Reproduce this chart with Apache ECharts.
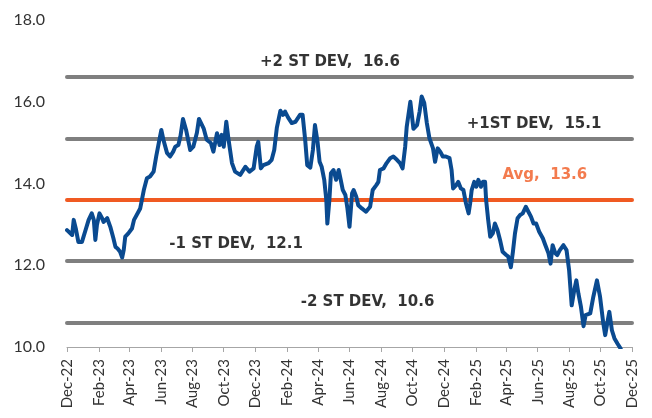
<!DOCTYPE html>
<html>
<head>
<meta charset="utf-8">
<script src="https://cdn.jsdelivr.net/npm/echarts@6/dist/echarts.min.js"></script>
<style>html,body{margin:0;padding:0;background:#fff}#c{width:652px;height:418px}</style>
</head>
<body>
<div id="c"></div>
<script>
// ---- data ----
const dates = [
'2022-12-01','2022-12-04','2022-12-11','2022-12-14','2022-12-18','2022-12-23','2022-12-30',
'2023-01-05','2023-01-12','2023-01-18','2023-01-22','2023-01-25','2023-01-28','2023-02-02','2023-02-07','2023-02-10','2023-02-17','2023-02-23',
'2023-03-01','2023-03-05','2023-03-09','2023-03-14','2023-03-18','2023-03-21','2023-03-24','2023-03-30','2023-04-06','2023-04-10','2023-04-22','2023-04-29',
'2023-05-05','2023-05-11','2023-05-18','2023-05-23','2023-05-28','2023-06-02','2023-06-06','2023-06-13','2023-06-19','2023-06-25','2023-06-29',
'2023-07-05','2023-07-09','2023-07-14','2023-07-20','2023-07-28','2023-08-03','2023-08-10','2023-08-14','2023-08-23','2023-08-29',
'2023-09-06','2023-09-11','2023-09-18','2023-09-23','2023-09-27','2023-10-01','2023-10-06','2023-10-10','2023-10-17','2023-10-23',
'2023-11-02','2023-11-12','2023-11-20','2023-11-28','2023-12-04','2023-12-07','2023-12-12','2023-12-17','2023-12-27',
'2024-01-02','2024-01-07','2024-01-12','2024-01-19','2024-01-24','2024-01-28','2024-02-03','2024-02-10','2024-02-17','2024-02-26',
'2024-03-02','2024-03-07','2024-03-11','2024-03-17','2024-03-22','2024-03-26','2024-03-31','2024-04-04','2024-04-08','2024-04-13','2024-04-17','2024-04-19','2024-04-23','2024-04-26',
'2024-05-01','2024-05-06','2024-05-11','2024-05-15','2024-05-19','2024-05-24','2024-05-28','2024-06-01','2024-06-06','2024-06-09','2024-06-14','2024-06-18','2024-06-25',
'2024-07-03','2024-07-11','2024-07-16','2024-07-23','2024-07-27','2024-07-30','2024-08-06','2024-08-12','2024-08-19','2024-08-25',
'2024-09-01','2024-09-07','2024-09-12','2024-09-17','2024-09-20','2024-09-27','2024-10-03','2024-10-10','2024-10-15','2024-10-19','2024-10-24','2024-10-29',
'2024-11-03','2024-11-10','2024-11-14','2024-11-19','2024-11-24','2024-11-29','2024-12-05','2024-12-12','2024-12-16','2024-12-19','2024-12-25','2024-12-29',
'2025-01-03','2025-01-08','2025-01-13','2025-01-18','2025-01-21','2025-01-24','2025-01-29','2025-02-02','2025-02-06','2025-02-11','2025-02-15','2025-02-19','2025-02-21','2025-02-25',
'2025-03-01','2025-03-06','2025-03-10','2025-03-15','2025-03-20','2025-03-25','2025-04-01','2025-04-05','2025-04-10','2025-04-14','2025-04-18','2025-04-23','2025-04-28',
'2025-05-03','2025-05-09','2025-05-14','2025-05-19','2025-05-24','2025-05-29','2025-06-04','2025-06-11','2025-06-16','2025-06-22','2025-06-26','2025-06-30',
'2025-07-05','2025-07-09','2025-07-14','2025-07-21','2025-07-27','2025-08-01','2025-08-06','2025-08-11','2025-08-15','2025-08-19','2025-08-24','2025-08-29',
'2025-09-02','2025-09-11','2025-09-17','2025-09-24','2025-09-30','2025-10-06','2025-10-10','2025-10-15','2025-10-18','2025-10-23','2025-10-28','2025-11-03','2025-11-09'
];
const values = [
12.86,12.82,12.74,13.11,12.90,12.57,12.57,
12.82,13.11,13.27,13.11,12.62,12.98,13.27,13.15,13.06,13.15,12.94,
12.66,12.45,12.41,12.33,12.19,12.37,12.70,12.78,12.90,13.11,13.39,13.84,
14.13,14.17,14.29,14.66,14.99,15.31,15.07,14.75,14.66,14.78,14.90,
14.94,15.15,15.58,15.31,14.82,14.90,15.24,15.58,15.35,15.07,
14.99,14.78,15.23,14.94,15.19,14.90,15.51,15.11,14.50,14.29,
14.21,14.41,14.29,14.37,14.90,15.02,14.37,14.45,14.50,
14.58,14.82,15.36,15.78,15.68,15.76,15.61,15.48,15.51,15.68,
15.68,15.07,14.45,14.39,14.82,15.43,15.02,14.53,14.41,14.09,13.60,13.02,13.60,14.25,
14.33,14.09,14.33,14.09,13.84,13.72,13.39,12.94,13.76,13.84,13.68,13.47,13.39,
13.31,13.43,13.84,13.96,14.04,14.33,14.37,14.50,14.62,14.66,
14.58,14.50,14.37,14.90,15.39,16.00,15.34,15.43,15.76,16.13,15.97,15.48,
15.11,14.86,14.53,14.86,14.78,14.66,14.66,14.62,14.33,13.88,13.96,14.04,
13.88,13.84,13.51,13.27,13.51,13.84,14.04,13.92,14.09,13.92,14.04,14.04,13.60,13.11,
12.70,12.78,13.02,12.86,12.62,12.33,12.25,12.21,11.95,12.33,12.78,13.15,13.23,
13.27,13.43,13.31,13.19,13.02,13.02,12.82,12.66,12.49,12.29,12.04,12.49,
12.30,12.25,12.37,12.49,12.37,11.88,11.02,11.39,11.63,11.31,10.98,10.51,
10.78,10.82,11.23,11.63,11.23,10.61,10.29,10.65,10.86,10.41,10.21,10.08,9.96
];
const refNames  = ['+2 ST DEV', '+1ST DEV', 'Avg', '-1 ST DEV', '-2 ST DEV'];
const refValues = [16.6, 15.1, 13.6, 12.1, 10.6];
const tickDates = ['2022-12-01','2023-02-01','2023-04-01','2023-06-01','2023-08-01','2023-10-01','2023-12-01',
  '2024-02-01','2024-04-01','2024-06-01','2024-08-01','2024-10-01','2024-12-01',
  '2025-02-01','2025-04-01','2025-06-01','2025-08-01','2025-10-01','2025-12-01'];
const yTicks = [10, 12, 14, 16, 18];

// ---- layout / style ----
const refColors = ['#7f7f7f','#7f7f7f','#f05a22','#7f7f7f','#7f7f7f'];
const labelAnchor = ['2024-04-24','2025-05-25','2025-06-15','2023-10-25','2024-07-06'];
const labelLift = [15, 14, 25, 17, 20];

function parseD(s){ const p = s.split('-').map(Number); return Date.UTC(p[0], p[1]-1, p[2]); }
const MON = ['Jan','Feb','Mar','Apr','May','Jun','Jul','Aug','Sep','Oct','Nov','Dec'];
function fmt(v){ const d = new Date(v); return MON[d.getUTCMonth()] + '-' + String(d.getUTCFullYear()).slice(2); }

const FONT = 'Lato, "Open Sans", sans-serif';
const LFONT = '"DejaVu Sans", Lato, sans-serif';
const chart = echarts.init(document.getElementById('c'), null, {renderer:'canvas'});
const tickVals = tickDates.map(parseD);

const series = [{
  type: 'line',
  data: dates.map((d, i) => [parseD(d), values[i]]),
  symbol: 'none',
  lineStyle: { color: '#0a4a90', width: 4, join: 'round', cap: 'round' },
  z: 5,
  markLine: {
    silent: true, symbol: 'none', animation: false,
    label: { show: false },
    data: refValues.map((v, i) => ({ yAxis: v, lineStyle: { color: refColors[i], width: 4, type: 'solid', cap: 'round' } }))
  }
}, {
  type: 'scatter',
  symbolSize: 0,
  silent: true,
  z: 10,
  data: refValues.map((v, i) => ({
    value: [parseD(labelAnchor[i]), v],
    label: {
      show: true, position: 'inside', offset: [0, -labelLift[i]],
      formatter: refNames[i] + ',  ' + v.toFixed(1),
      color: i === 2 ? '#f05a22' : '#000',
      fontFamily: LFONT, fontWeight: 'bold', fontSize: 15
    }
  }))
}];

chart.setOption({
  animation: false,
  backgroundColor: '#fff',
  grid: { left: 67, right: 20, top: 20, bottom: 71, containLabel: false },
  xAxis: {
    type: 'value',
    min: tickVals[0], max: tickVals[tickVals.length-1],
    axisLine: { show: true, lineStyle: { color: '#a6a6a6', width: 1 } },
    axisTick: { show: true, length: 5, lineStyle: { color: '#a6a6a6' }, customValues: tickVals },
    axisLabel: { customValues: tickVals, rotate: 90, margin: 12, formatter: fmt,
      color: '#333', fontFamily: FONT, fontSize: 15, hideOverlap: false, showMinLabel: true, showMaxLabel: true },
    splitLine: { show: false }
  },
  yAxis: {
    type: 'value', min: yTicks[0], max: yTicks[yTicks.length-1], interval: 2,
    axisLine: { show: false }, axisTick: { show: false },
    axisLabel: { formatter: v => v.toFixed(1), color: '#333', fontFamily: FONT, fontSize: 16, margin: 22 },
    splitLine: { show: false }
  },
  series
});
</script>
</body>
</html>
